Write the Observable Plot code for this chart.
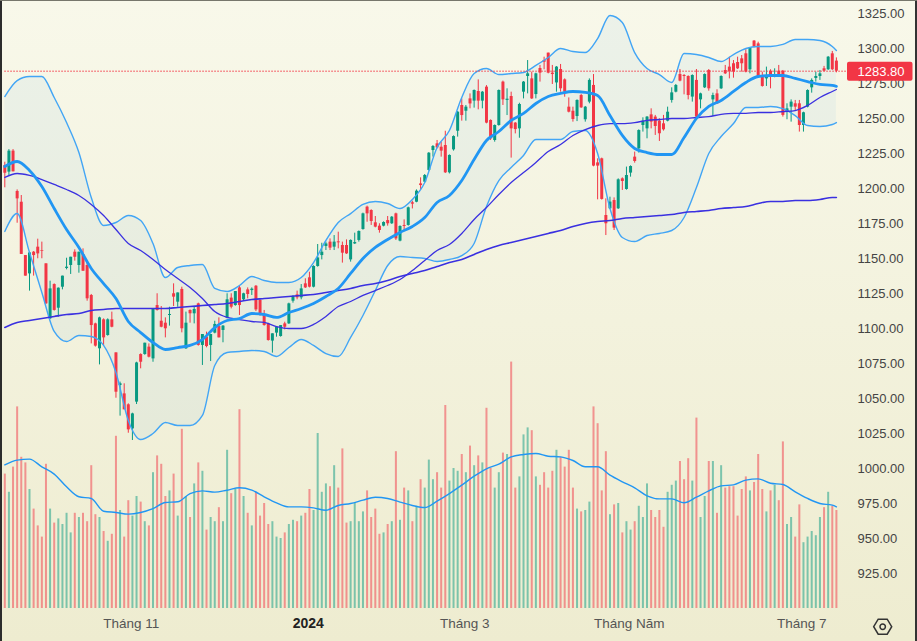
<!DOCTYPE html>
<html><head><meta charset="utf-8">
<script src="https://cdn.jsdelivr.net/npm/d3@7"></script>
<script src="https://cdn.jsdelivr.net/npm/@observablehq/plot@0.6"></script>
<style>
html,body{margin:0;padding:0;background:#f0eed2}
#chart{position:relative;width:917px;height:641px;overflow:hidden;background:linear-gradient(#f8f8ea,#eeecd0)}
#chart svg{position:absolute;left:0;top:0;background:transparent!important}
#chart .edge-l{position:absolute;left:0;top:0;width:2px;height:641px;background:#2c2c2c}
#chart .edge-r{position:absolute;right:0;top:0;width:2px;height:641px;background:#333}
#chart .edge-t{position:absolute;left:0;top:0;width:917px;height:1px;background:#77776c}
</style></head><body><div id="chart"><div class="edge-l"></div><div class="edge-r"></div><div class="edge-t"></div></div>
<script>
const dirs="RGRRRRGRRRRGRGGGGRGRRRRGRGRRGRRGGRGRGRRRGRGRGRGRGRGGRGGRGRGRGRRRRGGGRGGRGRRGGGGRGRRRGGGGRRRRGRGRGRGRGRGGGRRRGGGRGRGRGRRGGRGRRGGGRGRRRRGRRRRGRGGRRRRGRGRGGRGGGRRRRGGGRRRGRGGRGRGRRRRRRGRRRGRGRRGGRRGGGGGRGRR";
const highs=[1218.8,1227.8,1227.8,1199,1195,1152.1,1154,1155,1163.8,1161.7,
1146.2,1133.8,1131.9,1129,1137.4,1150.2,1150.9,1156.2,1154.5,1156.9,
1148.1,1124.3,1103.8,1108.1,1106.9,1106.9,1111.7,1082.6,1061.7,1060.5,
1046.2,1039.5,1075.9,1081.9,1089.5,1089,1114,1124.8,1115.7,1107.6,
1115.2,1131.9,1125.4,1129.5,1111.7,1113.3,1115.2,1118.1,1095.7,1097.4,
1095.7,1105.2,1107.6,1102.1,1124.8,1124.8,1126.4,1130.7,1125.2,1129,
1129,1130.7,1120.5,1112.9,1103.8,1096.2,1100.9,1102.1,1104.5,1118.1,
1123.3,1126.7,1131.4,1135.5,1140.2,1144.8,1160,1160.9,1161.7,1164,
1166.4,1168.8,1161.7,1163.3,1163.3,1168.1,1169.7,1182.4,1187.4,1184.8,
1180,1174.8,1176.2,1180,1180,1182.4,1173.3,1177.6,1186.7,1190.9,
1199,1207.6,1210,1225.7,1230.7,1234.3,1233.1,1240.9,1224,1237.6,
1255,1264,1259.3,1267.6,1270.4,1277.6,1269.3,1273.5,1249,1245.4,
1270.4,1276.7,1271.2,1268.8,1247.1,1260.9,1276.4,1291.4,1283.1,1282.4,
1287.9,1293.8,1296.7,1287.9,1287.1,1288.6,1278.3,1264.7,1258.1,1263.3,
1267.2,1258.6,1278.3,1281.4,1221.2,1221.7,1192.6,1193.8,1193.3,1206.9,
1207.6,1215.3,1216.2,1226,1241.9,1250.5,1251.4,1256.9,1252.2,1249.8,
1252.2,1258.1,1271.9,1274.3,1285,1281.4,1280.5,1281.2,1285,1268.1,
1281.9,1285,1268.1,1270.5,1280.5,1287.9,1293.8,1291.4,1293.8,1295,
1299.1,1300.7,1305.7,1304.5,1283.1,1286.7,1284.8,1285.5,1287.9,1284.3,
1260.5,1263.3,1262.9,1262.9,1254.5,1270.5,1278.3,1283.1,1284.3,1287.2,
1294.3,1297.9,1293.3];
const bodyTops=[1216.4,1226.7,1226.7,1197.9,1190.2,1152.1,1154,1154.5,1158.1,1155.7,
1146.2,1128.3,1131.4,1128.8,1137.4,1143.8,1150.9,1154.5,1154.5,1152.9,
1145,1123.6,1103.3,1107.6,1106.2,1106.2,1106.2,1082.6,1060.5,1053.3,
1045.5,1039,1075.4,1081.4,1089.5,1086.7,1113.6,1116.4,1105.2,1103.8,
1110,1124.8,1125.4,1127.9,1103.8,1112.9,1113.6,1117.6,1095.7,1093.8,
1095.7,1102.9,1101.4,1101.7,1120.5,1121.7,1126.4,1129,1124.8,1127.6,
1128.1,1130.2,1120,1109.8,1103.3,1096.2,1100.9,1102.1,1103.3,1117.6,
1122.9,1124,1128.3,1131.9,1136.2,1144.3,1150.4,1154.5,1160.4,1161.7,
1161.7,1161.9,1159.3,1159.3,1162.9,1161.4,1169.3,1181.9,1186.7,1184.3,
1175.5,1173.1,1175.7,1177.1,1179.5,1181.9,1172.9,1173.6,1186.2,1189.8,
1198.1,1203.3,1209.3,1225.2,1230,1231.9,1229.5,1230.7,1223.6,1237.1,
1254.5,1259.3,1258.1,1264,1270,1269.3,1268.8,1272.4,1248.6,1245,
1270,1276,1263.8,1265.7,1246.7,1260,1276,1281.9,1278.3,1281.9,
1285.7,1291.4,1296.7,1282.4,1286.7,1285,1277.6,1258.1,1255.2,1262.9,
1266.4,1258.1,1277.2,1273.6,1218.3,1221.2,1180.7,1190.3,1191.4,1206.2,
1206.9,1209.3,1215.7,1222.4,1241.4,1248.1,1251,1252.6,1251,1248.1,
1246.2,1254.5,1268.3,1273.6,1281.4,1280.7,1280,1280.7,1277.2,1267.6,
1281.4,1284.3,1266.4,1267.6,1280,1284.3,1286.7,1289.1,1290,1292.6,
1296.2,1300.3,1305.3,1303.3,1280.7,1280,1283.8,1280.7,1283.8,1283.8,
1256.9,1261.7,1260.5,1260.5,1254.1,1270,1277.2,1280,1281.9,1285.5,
1293.8,1296.2,1291];
const bodyBottoms=[1210.9,1211.7,1211.9,1192.6,1152.9,1137.4,1139,1152.1,1153.3,1155.2,
1117.6,1106.9,1112.9,1114.5,1129.5,1142.9,1145,1150.9,1145,1140.9,
1121.2,1102.1,1087.4,1085.5,1093.3,1095,1100.9,1054.5,1059.3,1041.9,
1027.6,1028.3,1047.4,1075.9,1081.4,1079.5,1078.3,1112.9,1100.9,1099.8,
1109.3,1122.4,1118.8,1099.8,1085.5,1110.5,1110.5,1087.9,1087.9,1087.1,
1087.9,1096.7,1093.3,1098.6,1107.4,1115.2,1116.4,1116.4,1120.5,1124.3,
1127.1,1113.3,1109.3,1102.1,1091.4,1091,1096.7,1094.3,1100.9,1103.3,
1119.5,1121.9,1121.9,1129,1129.5,1129.5,1144.3,1152.1,1158.6,1157.4,
1158.1,1161.2,1153.8,1153.3,1149,1160.4,1162.9,1170.7,1181.9,1176.4,
1172.4,1170,1173.1,1174.8,1174.8,1164,1162.4,1172.9,1173.6,1188.8,
1190.2,1202.1,1204.5,1212.9,1227.1,1229,1226.7,1211.2,1211.2,1227.6,
1240.9,1252.1,1255.2,1260.4,1262.4,1262.4,1262.4,1246.7,1235.4,1234.3,
1245,1263.3,1262.9,1242.6,1242.1,1242.6,1268.8,1280,1264,1267.1,
1282.4,1290.2,1282.4,1281.4,1275.4,1271.2,1268.8,1254.5,1249.3,1251.4,
1257.6,1249.1,1261.7,1216,1216,1192.2,1174.8,1185.5,1171.7,1185.5,
1205,1199.3,1211,1219.3,1228.3,1245,1242.6,1247.4,1244.3,1239.1,
1241.9,1248.1,1262.9,1268.8,1276.7,1280,1266.4,1265.3,1251,1263.3,
1271.9,1271.2,1263.3,1260.5,1271.2,1281.9,1283.6,1283.1,1285.5,1289.1,
1283.1,1284.8,1301,1280,1272.9,1278.3,1279.5,1279.5,1280,1252.2,
1254.5,1258.1,1258.1,1245,1245,1258.1,1271.9,1278.6,1280,1283.8,
1284.8,1284.8,1283.8];
const lows=[1200.5,1209.3,1211.9,1175.2,1152.9,1137.4,1126.7,1137.4,1149.8,1149.8,
1117.1,1106.4,1112.4,1108.1,1127.6,1141.9,1138.6,1148.1,1139.5,1140.9,
1119.5,1089,1086.7,1074,1087.9,1094.5,1100.5,1050.2,1037.4,1041.9,
1025.2,1020,1045.7,1071.2,1080.9,1079,1075.9,1112.4,1100.5,1093.3,
1101.7,1115.7,1115.2,1096.9,1085,1103.8,1103.3,1087.4,1073.6,1086.2,
1076.4,1096.2,1093.3,1089.8,1106.9,1114,1115.9,1109.3,1120,1121.2,
1123.6,1112.1,1108.8,1101.7,1091,1082.4,1093.8,1093.8,1099,1102.9,
1118.1,1120.5,1120.5,1128.6,1129,1129,1143.8,1149,1155.7,1155.7,
1155.7,1156.9,1146.7,1152.9,1147.4,1160,1161.7,1170.2,1175.9,1173.6,
1171.9,1168.1,1172.6,1173.1,1174.3,1162.9,1161.9,1169.5,1173.1,1185.4,
1189.8,1198.6,1203.8,1212.4,1222.4,1228.3,1222.4,1210.7,1210.4,1226.7,
1236.7,1248.1,1248.1,1256.9,1257.4,1256.2,1256.9,1246.2,1234.3,1233.1,
1244.5,1259.3,1252.1,1221.7,1239,1235.9,1264,1267.6,1263.6,1264,
1276,1284.8,1281.9,1274.3,1268.8,1268.8,1265.2,1254,1247.4,1247.8,
1257.2,1247.4,1260.5,1215.5,1191.9,1191.7,1166.4,1185,1170,1185,
1198.6,1198.8,1208.1,1218.1,1225.3,1240.3,1235.5,1242.6,1237.9,1233.6,
1241,1247.6,1261,1268.3,1276.2,1266.9,1263.3,1261.7,1250.5,1256.9,
1271.4,1269.5,1251.4,1260,1270.7,1281.4,1278.3,1278.8,1285,1283.1,
1282.6,1281.9,1300.5,1279.5,1272.4,1272.9,1271.2,1279.1,1279.5,1251,
1249.1,1247.4,1255.3,1240.3,1240.3,1257.6,1268.1,1276,1277.2,1283.3,
1284.3,1284.3,1282.6];
const volumes=[96,83,101,144,108,104,85,71,59,51,103,71,61,64,60,68,54,68,65,68,
62,102,67,65,55,48,53,123,70,51,77,66,80,76,62,59,97,109,103,80,
84,96,66,128,80,65,89,104,98,56,65,62,72,62,113,82,85,142,80,68,
59,83,66,75,60,62,51,50,54,60,63,62,66,68,85,70,125,83,89,87,
102,86,114,61,62,75,62,69,84,65,71,53,54,60,62,112,63,86,84,62,
73,92,86,106,92,97,86,145,91,100,98,110,97,116,102,109,104,143,100,86,
97,111,110,176,86,94,124,129,127,94,88,97,86,98,113,108,101,113,86,71,
69,70,76,144,132,84,112,67,74,75,54,62,56,62,73,65,89,70,65,70,
58,83,88,91,105,92,107,91,136,65,80,105,105,68,102,86,87,87,66,85,
94,84,90,110,85,69,84,88,77,119,60,65,51,74,47,51,55,52,65,72,
83,73,70];
// Indicator readings, taken every third session plus the last one
const upperBand=[1265.7,1277.1,1280,1280,1265,1247.1,1225.7,1193.6,1173.6,1175.7,1180.7,1177.1,1160.7,1136.4,1143.6,1145,1145.7,1128.6,1126.4,1130.7,1137.1,1134.3,1132.9,1132.9,1136.4,1147.1,1162.9,1175.7,1182.1,1188.6,1190.7,1189.3,1185.7,1192.1,1204.3,1229.3,1241.4,1265,1282.1,1285.7,1281.4,1282.1,1282.9,1287.9,1293.6,1300,1297.9,1297.1,1307.1,1323.6,1318.6,1297.1,1285.7,1281.4,1275.7,1296.4,1295.7,1293.6,1290.7,1295.7,1300,1301.4,1301.4,1302.9,1306.4,1306.4,1305.7,1301.4,1298.6];
const lowerBand=[1169.3,1182.1,1154.3,1125.7,1097.9,1090.7,1095,1094.3,1087.9,1068.6,1034.3,1020.7,1025,1032.9,1030.7,1030.7,1037.9,1073.6,1082.9,1083.6,1084.3,1083.6,1080,1086.4,1092.1,1087.9,1082.1,1080,1093.6,1109.3,1127.1,1145,1151.4,1150.7,1150,1147.9,1149.3,1152.1,1160.7,1187.1,1205.7,1215,1223.6,1235,1235,1235,1240.7,1241.4,1225,1185.7,1165,1162.1,1166.4,1167.9,1170,1179.3,1200.7,1225,1237.1,1246.4,1257.9,1257.9,1258.6,1257.1,1252.1,1245,1244.3,1245.7,1247.1];
const midBand=[1215.7,1219.3,1212.9,1201.4,1185.7,1170.7,1157.9,1142.9,1132.1,1121.4,1105,1097.1,1090,1085,1086.4,1087.9,1092.1,1100.7,1105.7,1107.1,1110.7,1110,1107.9,1111.4,1114.3,1117.9,1122.9,1128.6,1139.3,1150,1157.9,1163.6,1168.6,1172.9,1179.3,1190,1195,1205.7,1220.7,1234.3,1240.7,1248.6,1253.6,1260.7,1265.7,1267.9,1269.3,1268.6,1266.4,1252.1,1237.9,1228.6,1225.7,1224.3,1224.3,1236.4,1250,1258.6,1262.9,1269.3,1275.7,1280,1280.7,1280.7,1278.6,1276.4,1274.3,1273.6,1272.9];
const ma50=[1207.9,1210.7,1209.3,1206.4,1202.9,1199.3,1195,1188.6,1180.7,1170.7,1160.7,1155.7,1149.3,1142.1,1135.7,1129.3,1121.4,1112.1,1107.9,1106.4,1105,1104.3,1101.4,1100,1100,1102.9,1108.6,1115.7,1119.3,1123.6,1127.1,1130.7,1135,1141.4,1148.6,1155.7,1160,1167.9,1177.9,1186.4,1195.7,1204.3,1211.4,1218.6,1226.4,1231.4,1237.9,1242.1,1245,1246.4,1246.4,1247.1,1248.6,1249.3,1250,1250,1250.7,1251.4,1252.9,1253.6,1253.6,1254.3,1254.3,1255,1255.7,1259.3,1265,1269.3,1270.7];
const ma200=[1100.7,1104.3,1105.7,1107.1,1108.6,1110,1110.7,1112.9,1113.6,1114.3,1114.3,1114.3,1114.3,1114.3,1115,1115.7,1116.4,1117.1,1117.9,1119.3,1120.7,1121.4,1122.1,1122.9,1123.6,1124.3,1125.7,1127.1,1128.6,1130.7,1132.1,1134.3,1137.1,1139.3,1141.4,1144.3,1147.1,1149.3,1152.9,1156.4,1159.3,1161.4,1163.6,1165.7,1167.9,1170,1172.9,1175,1176.4,1177.1,1178.6,1179.3,1180,1180.7,1181.4,1182.9,1183.6,1184.3,1185.7,1186.4,1187.1,1189.3,1190.7,1190.7,1191.4,1191.4,1192.1,1193.6,1193.6];
const volumeMa=[102.6,106,106.7,101.2,96,86.9,79.8,78.6,69.5,68.6,67.4,68.6,71.4,75.7,76.2,82.1,84,83.1,84.5,86.2,84.5,79.8,75.5,72.6,72.6,71.9,70.2,73.6,75,77.4,79.5,78.6,76,73.6,72.1,76.7,82.1,88.1,94.5,99.8,103.1,108.3,110,110.7,108.8,108.3,105.7,101.2,101.2,95.2,90.5,86.2,80.5,78.3,78.3,75.5,79.5,84,87.6,88.3,91.7,92.6,89.5,88.6,83.3,78.6,75,73.8,72.6];
const priceTicks=[925,950,975,1000,1025,1050,1075,1100,1125,1150,1175,1200,1225,1250,1275,1300,1325];
const monthTicks=[30.7,111.7,151.7,193.6];
const monthLabels=["Tháng 11","Tháng 3","Tháng Năm","Tháng 7"];
const yearTick=73.7, yearLabel="2024";
const lastPrice=1283.8;
const volumeBase=900;

const RED="#f23645", GREEN="#089981", BLUE="#2196f3", INDIGO="#3a30e0";
const FONT='"Liberation Sans",Arial,sans-serif';
const candles=highs.map((h,i)=>({i,h,t:bodyTops[i],b:bodyBottoms[i],l:lows[i],v:volumes[i],c:dirs[i]==="R"?RED:GREEN}));
const bandIdx=upperBand.map((_,k)=>k===upperBand.length-1?202:k*3);
const bands=bandIdx.map((i,k)=>({i,u:upperBand[k],lo:lowerBand[k],m:midBand[k],a:ma50[k],z:ma200[k],vm:volumeBase+volumeMa[k]}));
const line=(key,stroke,strokeWidth)=>Plot.lineY(bands,{x:"i",y:key,stroke,strokeWidth,curve:"monotone-x"});

const labelMark=(index,scales)=>{
  const py=scales.y(lastPrice);
  const g=d3.create("svg:g");
  g.append("rect").attr("x",847).attr("y",py-9).attr("width",65.5).attr("height",19).attr("rx",2).attr("fill",RED);
  g.append("text").attr("x",881).attr("y",py+0.5).attr("dy","0.36em").attr("text-anchor","middle")
    .attr("fill","#fff").attr("font-size",13).attr("font-family",FONT).text("1283.80");
  g.append("path").attr("transform","translate(882.7,626.7)")
    .attr("d","M-9,0L-4.5,-7.5L4.5,-7.5L9,0L4.5,7.5L-4.5,7.5Z M2.7,0A2.7,2.7 0 1 1 -2.7,0A2.7,2.7 0 1 1 2.7,0Z")
    .attr("fill","none").attr("stroke","#333").attr("stroke-width",1.5);
  return g.node();
};

const plot=Plot.plot({
  width:917,height:641,marginTop:0,marginLeft:0,marginRight:81,marginBottom:32,
  style:{background:"transparent",fontFamily:FONT,fontSize:"13px"},
  x:{type:"linear",domain:[0,202],range:[4.3,835.9]},
  y:{domain:[925,1325],range:[573,13]},
  marks:[
    Plot.ruleX(candles,{x:"i",y1:()=>volumeBase,y2:d=>volumeBase+d.v,stroke:"c",strokeWidth:2,strokeOpacity:0.5}),
    line("vm",BLUE,1.4),
    Plot.areaY(bands,{x:"i",y1:"lo",y2:"u",fill:BLUE,fillOpacity:0.055,curve:"monotone-x"}),
    Plot.ruleX(candles,{x:"i",y1:"l",y2:"h",stroke:"c",strokeWidth:1}),
    Plot.ruleX(candles,{x:"i",y1:"b",y2:"t",stroke:"c",strokeWidth:3}),
    line("u","#42a5f5",1.4),
    line("lo","#42a5f5",1.4),
    line("z",INDIGO,1.6),
    line("a",INDIGO,1.3),
    line("m",BLUE,2.8),
    Plot.ruleY([lastPrice],{x1:0,x2:204.5,stroke:RED,strokeWidth:1,strokeDasharray:"1.5,1.5"}),
    Plot.axisY({anchor:"right",ticks:priceTicks,tickSize:0,tickPadding:21,tickFormat:d=>d.toFixed(2),label:null,fill:"#444",textAnchor:"start"}),
    Plot.axisX({anchor:"bottom",ticks:monthTicks,tickSize:0,tickPadding:9,tickFormat:d=>monthLabels[monthTicks.indexOf(d)],label:null,fill:"#555",fontSize:13.5}),
    Plot.axisX({anchor:"bottom",ticks:[yearTick],tickSize:0,tickPadding:9,tickFormat:()=>yearLabel,label:null,fill:"#222",fontWeight:"bold",fontSize:14}),
    labelMark
  ]
});
document.getElementById("chart").prepend(plot);
</script></body></html>
